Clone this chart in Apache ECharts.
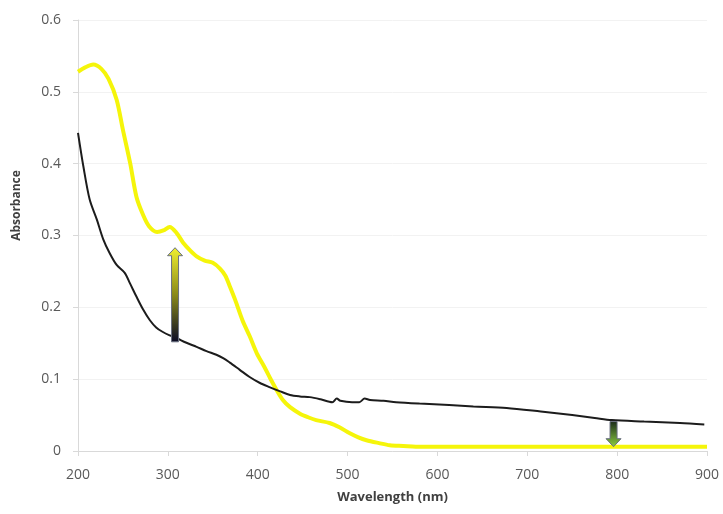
<!DOCTYPE html>
<html>
<head>
<meta charset="utf-8">
<script src="https://cdn.jsdelivr.net/npm/echarts@6/dist/echarts.min.js"></script>
<style>html,body{margin:0;padding:0;background:#fff}#c{width:723px;height:514px}</style>
</head>
<body>
<div id="c"></div>
<script>
// Wavelength (nm) / absorbance pairs
const yellowWl = [200, 208, 217, 226, 234, 243, 250, 258, 265, 272, 279, 288, 295, 302, 310, 317, 325, 332, 341, 350, 358, 364, 369, 375, 383, 391, 399, 407, 414, 421, 428, 436, 447, 456, 465, 480, 491, 502, 512, 521, 535, 547, 562, 576, 600, 650, 700, 750, 800, 850, 900];
const yellowAbs = [0.528, 0.534, 0.538, 0.532, 0.518, 0.489, 0.447, 0.401, 0.354, 0.330, 0.313, 0.305, 0.307, 0.312, 0.303, 0.290, 0.279, 0.271, 0.265, 0.262, 0.254, 0.244, 0.229, 0.210, 0.182, 0.160, 0.136, 0.118, 0.101, 0.085, 0.071, 0.061, 0.052, 0.047, 0.043, 0.039, 0.033, 0.025, 0.019, 0.015, 0.011, 0.008, 0.007, 0.006, 0.006, 0.006, 0.006, 0.006, 0.006, 0.006, 0.006];
const blackWl = [200, 206, 213, 221, 228, 235, 243, 252, 258, 265, 272, 280, 287, 294, 302, 310, 320, 332, 343, 354, 362, 369, 380, 391, 402, 413, 425, 436, 447, 458, 470, 483, 488, 492, 505, 513, 519, 525, 540, 554, 580, 613, 640, 677, 715, 750, 775, 794, 830, 870, 897];
const blackAbs = [0.443, 0.396, 0.350, 0.322, 0.295, 0.276, 0.259, 0.248, 0.233, 0.215, 0.198, 0.182, 0.172, 0.166, 0.161, 0.157, 0.151, 0.145, 0.139, 0.134, 0.129, 0.123, 0.113, 0.103, 0.095, 0.089, 0.083, 0.078, 0.076, 0.075, 0.072, 0.068, 0.073, 0.070, 0.068, 0.068, 0.073, 0.071, 0.070, 0.068, 0.066, 0.064, 0.062, 0.060, 0.055, 0.050, 0.046, 0.043, 0.041, 0.039, 0.037];
// Arrows: [wavelength, start absorbance, end absorbance]
const arrows = [[308, 0.152, 0.283], [796, 0.041, 0.006]];
const xTicks = [200, 300, 400, 500, 600, 700, 800, 900];
const yTicks = [0, 0.1, 0.2, 0.3, 0.4, 0.5, 0.6];

const pair = (xs, ys) => xs.map((x, i) => [x, ys[i]]);
const font = 'Open Sans';
const chart = echarts.init(document.getElementById('c'));
chart.setOption({
  animation: false,
  backgroundColor: '#fff',
  grid: { left: 78, right: 16, top: 20, bottom: 63 },
  xAxis: {
    type: 'value', min: xTicks[0], max: xTicks[xTicks.length - 1], interval: 100,
    name: 'Wavelength (nm)', nameLocation: 'middle', nameGap: 40,
    nameTextStyle: { fontFamily: font, fontSize: 13, fontWeight: 'bold', color: '#404040' },
    axisLine: { show: true, lineStyle: { color: '#d9d9d9', width: 1 } },
    axisTick: { show: true, length: 5, lineStyle: { color: '#d9d9d9' } },
    splitLine: { show: false },
    axisLabel: { margin: 17, fontFamily: font, fontSize: 14, color: '#595959' }
  },
  yAxis: {
    type: 'value', min: yTicks[0], max: yTicks[yTicks.length - 1], interval: 0.1,
    name: 'Absorbance', nameLocation: 'middle', nameGap: 55, nameRotate: 90,
    nameTextStyle: { fontFamily: font, fontSize: 12, fontWeight: 'bold', color: '#404040', padding: [0, 0, 0, 60] },
    axisLine: { show: true, lineStyle: { color: '#d9d9d9', width: 1 } },
    axisTick: { show: true, length: 5, lineStyle: { color: '#d9d9d9' } },
    splitLine: { show: true, lineStyle: { color: '#f2f2f2', width: 1 } },
    axisLabel: { margin: 17, fontFamily: font, fontSize: 14, color: '#595959', formatter: v => String(+v.toFixed(1)) }
  },
  series: [
    {
      type: 'line', data: pair(blackWl, blackAbs), showSymbol: false, smooth: 0.3,
      lineStyle: { color: '#1c1c1c', width: 2 }, z: 3
    },
    {
      type: 'line', data: pair(yellowWl, yellowAbs), showSymbol: false, smooth: 0.3,
      lineStyle: { color: '#f5f50a', width: 4 }, z: 2
    },
    {
      type: 'custom', data: arrows, z: 5,
      renderItem: function (params, api) {
        const p0 = api.coord([api.value(0), api.value(1)]);
        const p1 = api.coord([api.value(0), api.value(2)]);
        const up = p1[1] < p0[1];
        const dir = up ? -1 : 1;
        const x = p0[0];
        const sw = 3.5, hw = 7.5, hl = 8;
        const neck = p1[1] - dir * hl;
        const pts = [
          [x - sw, p0[1]], [x - sw, neck], [x - hw, neck], [x, p1[1]],
          [x + hw, neck], [x + sw, neck], [x + sw, p0[1]]
        ];
        const fill = up
          ? new echarts.graphic.LinearGradient(0, 0, 0, 1, [
              { offset: 0, color: '#f0f030' }, { offset: 0.5, color: '#8a8a1a' }, { offset: 1, color: '#0a0a25' }])
          : new echarts.graphic.LinearGradient(0, 0, 0, 1, [
              { offset: 0, color: '#1a2a1a' }, { offset: 1, color: '#8cd040' }]);
        return {
          type: 'polygon',
          shape: { points: pts },
          style: { fill: fill, stroke: '#6a7080', lineWidth: 1 }
        };
      }
    }
  ]
});
</script>
</body>
</html>
